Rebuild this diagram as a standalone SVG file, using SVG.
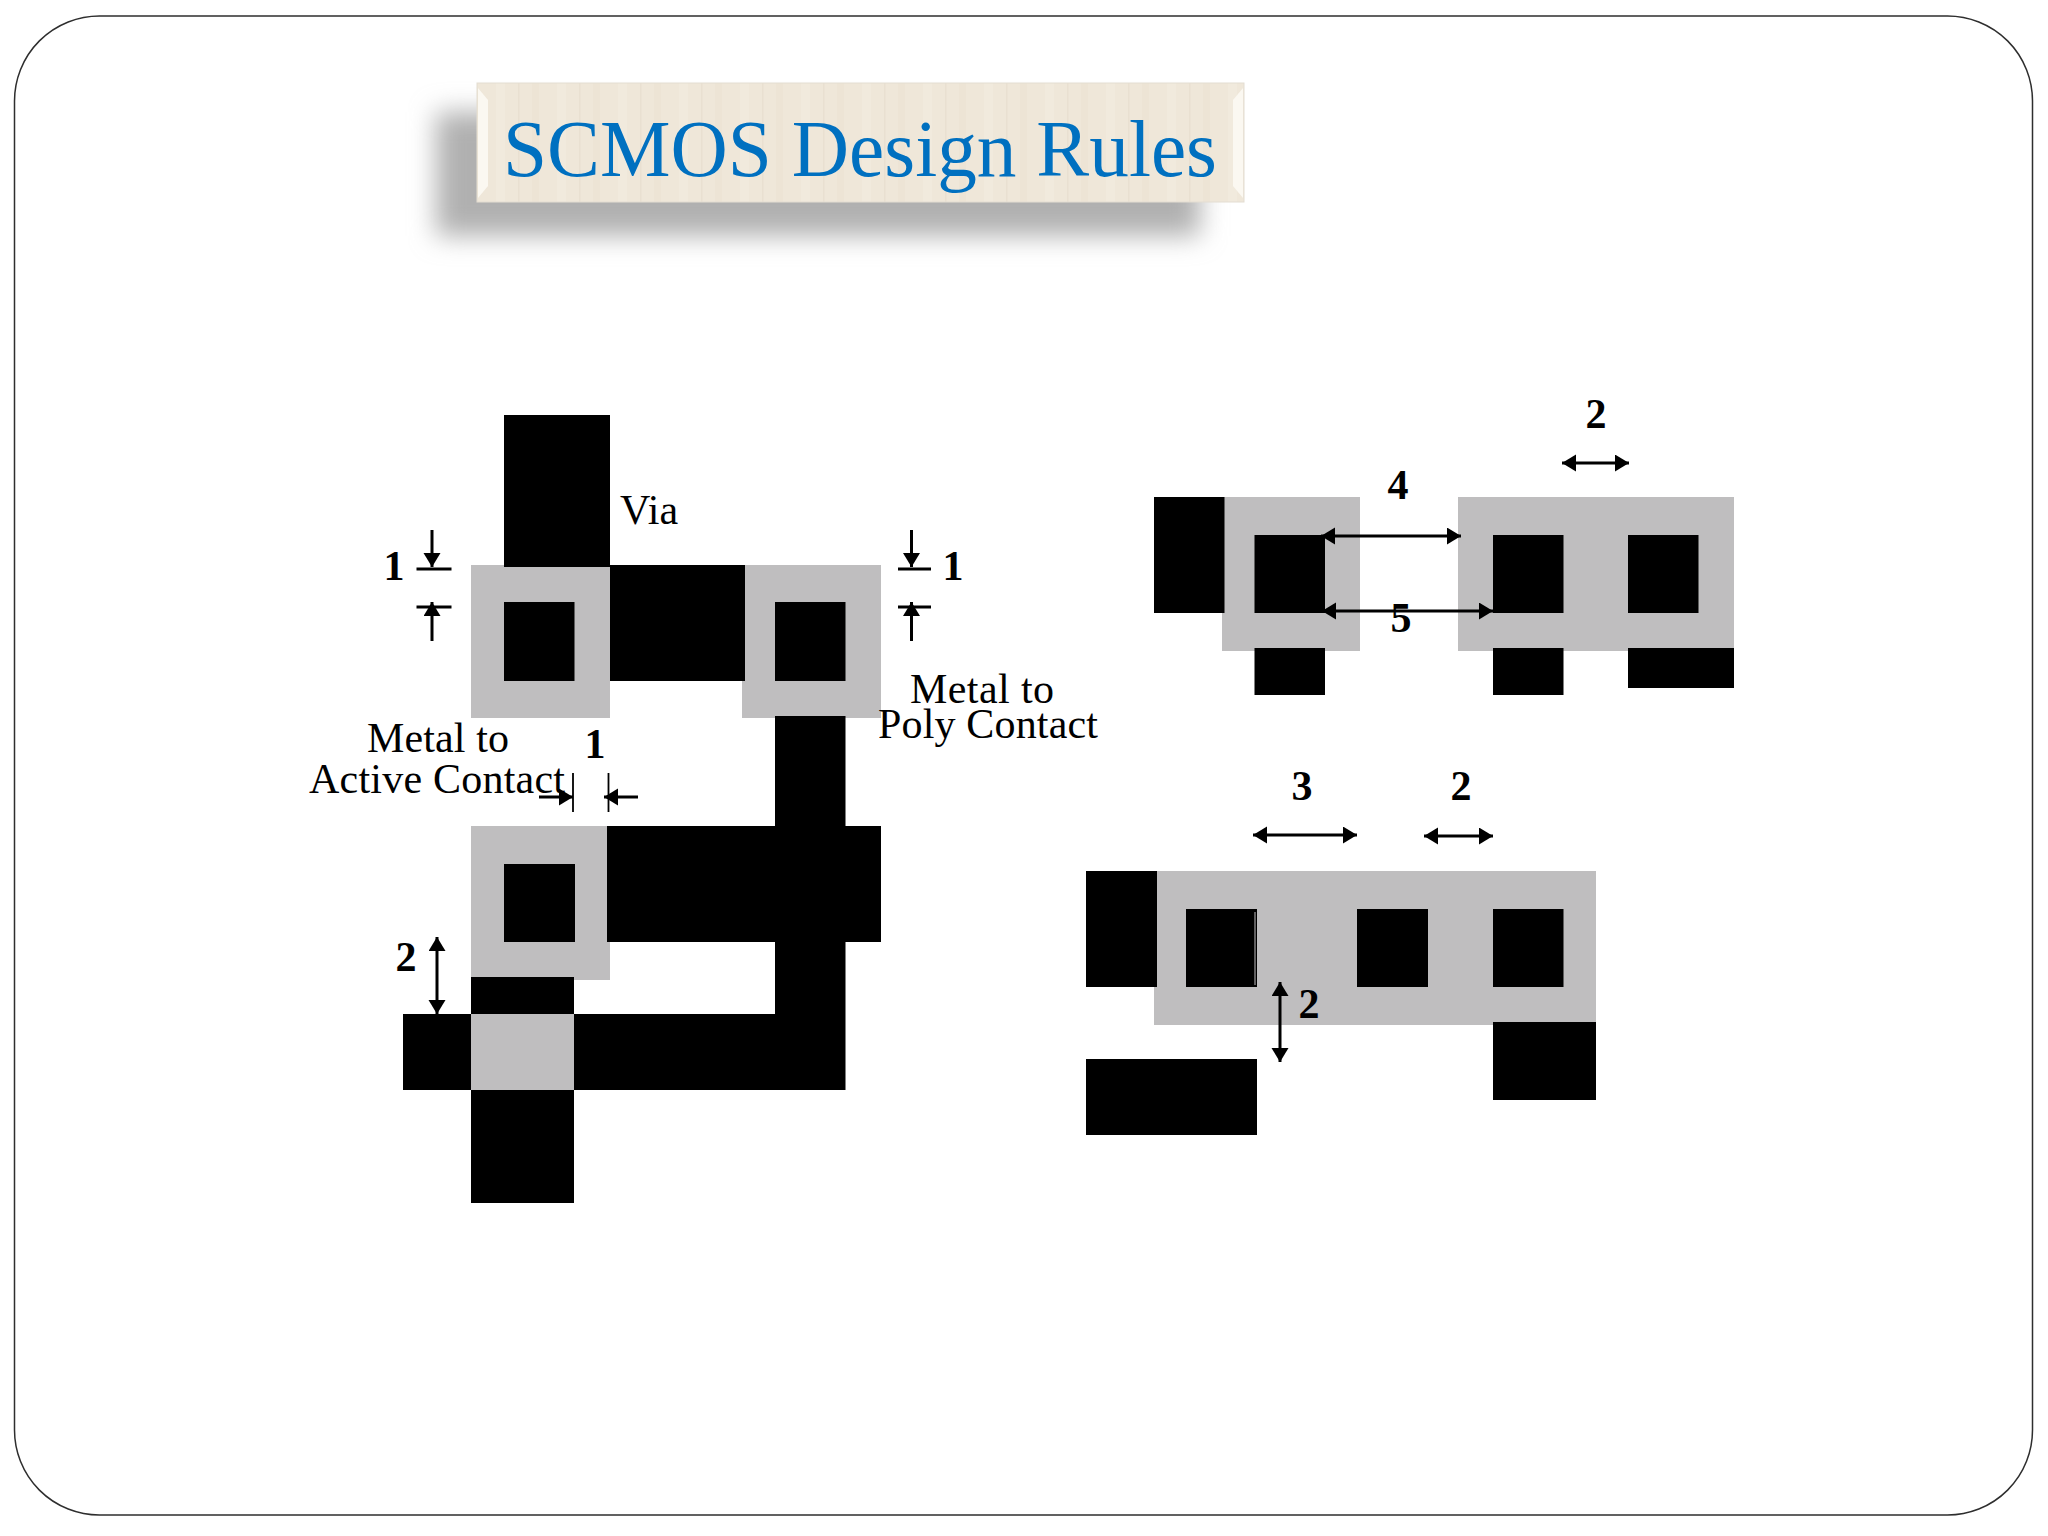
<svg xmlns="http://www.w3.org/2000/svg" width="2048" height="1536" viewBox="0 0 2048 1536">
<style>
.k{fill:#000}
.g{fill:#bfbebf}
.n{font-family:"Liberation Serif","Times New Roman",serif;font-size:42px;font-weight:700;fill:#000;text-anchor:middle}
.l{font-family:"Liberation Serif","Times New Roman",serif;font-size:42px;fill:#000}
.t{font-family:"Liberation Serif","Times New Roman",serif;font-size:80px;fill:#0070c0}
.a{stroke:#000;stroke-width:3;fill:none}
.b{marker-start:url(#h);marker-end:url(#h)}
.e{marker-end:url(#h)}
</style>
<defs>
<marker id="h" markerUnits="userSpaceOnUse" markerWidth="16" markerHeight="18" refX="14" refY="8.500" orient="auto-start-reverse"><path d="M0 0L14 8.500L0 17Z" fill="#000"/></marker>
<filter id="blur" x="-10%" y="-30%" width="120%" height="160%"><feGaussianBlur stdDeviation="13"/></filter>
<pattern id="wood" patternUnits="userSpaceOnUse" width="61" height="120">
<rect width="61" height="120" fill="#efe7d9"/>
<rect x="8" width="9" height="120" fill="#f1eadd"/>
<rect x="30" width="1.500" height="120" fill="#e9e0d1"/>
<rect x="44" width="7" height="120" fill="#ede4d5"/>
</pattern>
</defs>
<rect id="frame" x="14.500" y="16" width="2018" height="1499" rx="85" ry="85" fill="#fff" stroke="#2e2e2e" stroke-width="1.500"/>
<g id="title">
<rect x="436" y="112" width="764" height="124" fill="#b0b0b0" filter="url(#blur)"/>
<rect x="477" y="83" width="767" height="119" fill="url(#wood)" stroke="#e3ddd2" stroke-width="1"/>
<path d="M478 88L488 100V186L478 198Z" fill="#fbf8f1"/>
<path d="M1243 88L1233 100V186L1243 198Z" fill="#fbf8f1"/>
<text class="t" x="503" y="176" textLength="714" lengthAdjust="spacingAndGlyphs">SCMOS Design Rules</text>
</g>
<g id="metal-to-poly">
<rect class="g" x="742" y="565" width="139" height="153"/>
<rect class="k" x="775" y="602" width="70.500" height="79"/>
<rect class="k" x="775" y="716" width="70.500" height="374"/>
<text class="l" x="910" y="703" textLength="144">Metal to</text>
<text class="l" x="878" y="738" textLength="220">Poly Contact</text>
</g>
<g id="via-contact">
<rect class="g" x="471" y="565" width="139" height="153"/>
<rect class="k" x="504" y="415" width="106" height="152"/>
<rect class="k" x="504" y="602" width="70.500" height="79"/>
<rect class="k" x="610" y="565" width="135" height="116"/>
<text class="l" x="620" y="524">Via</text>
</g>
<g id="metal-to-active">
<rect class="g" x="471" y="826" width="139" height="154"/>
<rect class="k" x="504" y="864" width="71" height="78"/>
<rect class="k" x="607" y="826" width="274" height="116"/>
<text class="l" x="367" y="752" textLength="142">Metal to</text>
<text class="l" x="309" y="793" textLength="256">Active Contact</text>
</g>
<g id="poly-cross">
<rect class="k" x="471" y="977" width="103" height="226"/>
<rect class="k" x="403" y="1014" width="442" height="76"/>
<rect class="g" x="471" y="1014" width="103" height="76"/>
</g>
<g id="cell-a">
<rect class="g" x="1222" y="497" width="138" height="154"/>
<rect class="k" x="1154" y="497" width="70.500" height="116"/>
<rect class="k" x="1254.500" y="535" width="70.500" height="78"/>
<rect class="k" x="1254.500" y="648" width="70.500" height="47"/>
</g>
<g id="cell-b">
<rect class="g" x="1458" y="497" width="276" height="154"/>
<rect class="k" x="1493" y="535" width="70.500" height="78"/>
<rect class="k" x="1628" y="535" width="70.500" height="78"/>
<rect class="k" x="1493" y="648" width="70.500" height="47"/>
<rect class="k" x="1628" y="648" width="106" height="40"/>
</g>
<g id="cell-c">
<rect class="g" x="1154" y="871" width="442" height="154"/>
<rect class="k" x="1086" y="871" width="71" height="116"/>
<rect class="k" x="1186" y="909" width="71" height="78"/>
<rect x="1254.500" y="912" width="1" height="73" fill="#bfbebf"/>
<rect class="k" x="1357" y="909" width="71" height="78"/>
<rect class="k" x="1493" y="909" width="70.500" height="78"/>
<rect class="k" x="1086" y="1059" width="171" height="76"/>
<rect class="k" x="1493" y="1022" width="103" height="78"/>
</g>
<g id="connectors">
<path class="a" d="M416.500 569H451.500M416.500 607H451.500M898 569H931M898 607H931"/>
<path class="a e" d="M432 530V567"/>
<path class="a e" d="M432 641V602"/>
<path class="a e" d="M911.500 530V567"/>
<path class="a e" d="M911.500 641V602"/>
<path d="M573 773V812M608.500 773V812" stroke="#000" stroke-width="1.800" fill="none"/>
<path class="a e" d="M539 797H573"/>
<path class="a e" d="M638 797H604"/>
<path class="a b" d="M437 937V1014"/>
<path class="a b" d="M1562 463H1629"/>
<path class="a b" d="M1321 536H1461"/>
<path class="a b" d="M1322 611H1493"/>
<path class="a b" d="M1253 835H1357"/>
<path class="a b" d="M1424 836H1493"/>
<path class="a b" d="M1280 982V1062"/>
</g>
<g id="dimensions">
<text class="n" x="394" y="580">1</text>
<text class="n" x="953" y="580">1</text>
<text class="n" x="595" y="758">1</text>
<text class="n" x="406" y="971">2</text>
<text class="n" x="1596" y="428">2</text>
<text class="n" x="1398" y="499">4</text>
<text class="n" x="1401" y="632">5</text>
<text class="n" x="1302" y="800">3</text>
<text class="n" x="1461" y="800">2</text>
<text class="n" x="1309" y="1018">2</text>
</g>
</svg>
